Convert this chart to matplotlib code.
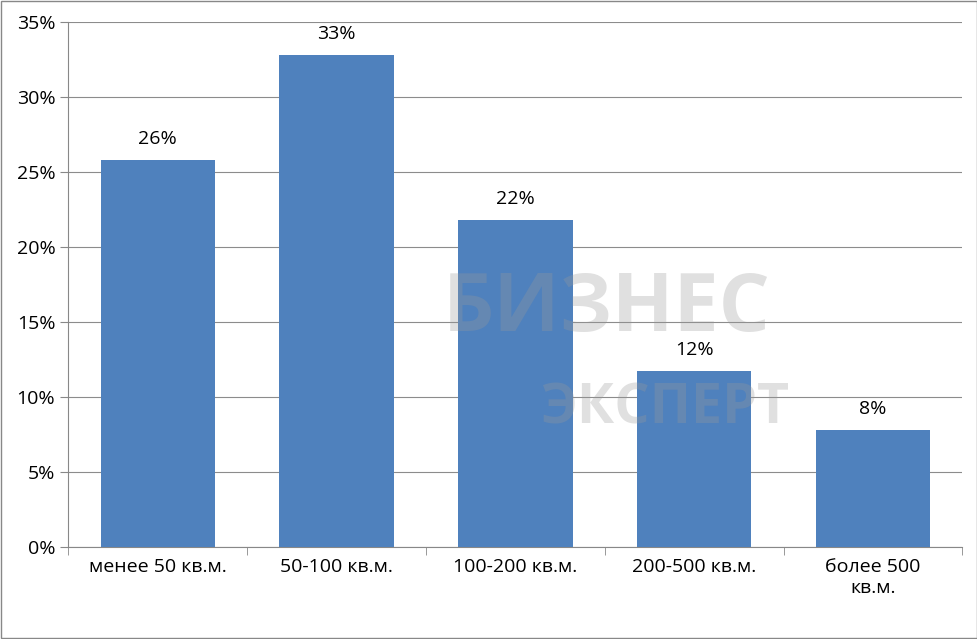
import matplotlib
matplotlib.use("Agg")
import matplotlib.pyplot as plt
import numpy as np

categories = ["менее 50 кв.м.", "50-100 кв.м.", "100-200 кв.м.", "200-500 кв.м.", "более 500\nкв.м."]
values = [25.8, 32.8, 21.8, 11.7, 7.8]
labels = ["26%", "33%", "22%", "12%", "8%"]

plt.rcParams['font.family'] = ['Open Sans', 'DejaVu Sans']
fig = plt.figure(figsize=(9.78, 6.39), dpi=100)
ax = fig.add_axes([0.07, 0.144, 0.914, 0.822])
x = np.arange(len(categories))
ax.bar(x, values, width=0.64, color="#4F81BD", zorder=3)
for xi, v, l in zip(x, values, labels):
    ax.text(xi, v + 0.8, l, ha="center", va="bottom", fontsize=14)
ax.set_ylim(0, 35)
ax.set_xlim(-0.5, len(categories) - 0.5)
ax.set_yticks(np.arange(0, 36, 5))
ax.set_yticklabels([f"{t}%" for t in range(0, 36, 5)], fontsize=14)
ax.set_xticks(x)
ax.set_xticklabels(categories, fontsize=14, va="top")
ax.set_xticks(np.arange(-0.5, len(categories), 1), minor=True)
ax.tick_params(axis="x", which="major", length=0, pad=8)
ax.tick_params(axis="x", which="minor", length=6, color="#888888")
ax.tick_params(axis="y", length=6, color="#888888")
ax.grid(axis="y", color="#8c8c8c", linewidth=0.8, zorder=0)
for s in ["top", "right"]:
    ax.spines[s].set_visible(False)
ax.spines["left"].set_color("#888888")
ax.spines["bottom"].set_color("#888888")
fig.text(0.62, 0.515, "БИЗНЕС", fontsize=58, fontweight="bold", color="#999999", alpha=0.3, ha="center", va="center", zorder=0)
fig.text(0.68, 0.36, "ЭКСПЕРТ", fontsize=40, fontweight="bold", color="#999999", alpha=0.3, ha="center", va="center", zorder=0)
fig.patches.append(plt.Rectangle((0.001, 0.001), 0.998, 0.998, transform=fig.transFigure, fill=False, edgecolor="#888888", linewidth=1))
fig.savefig("out.png", dpi=100)
